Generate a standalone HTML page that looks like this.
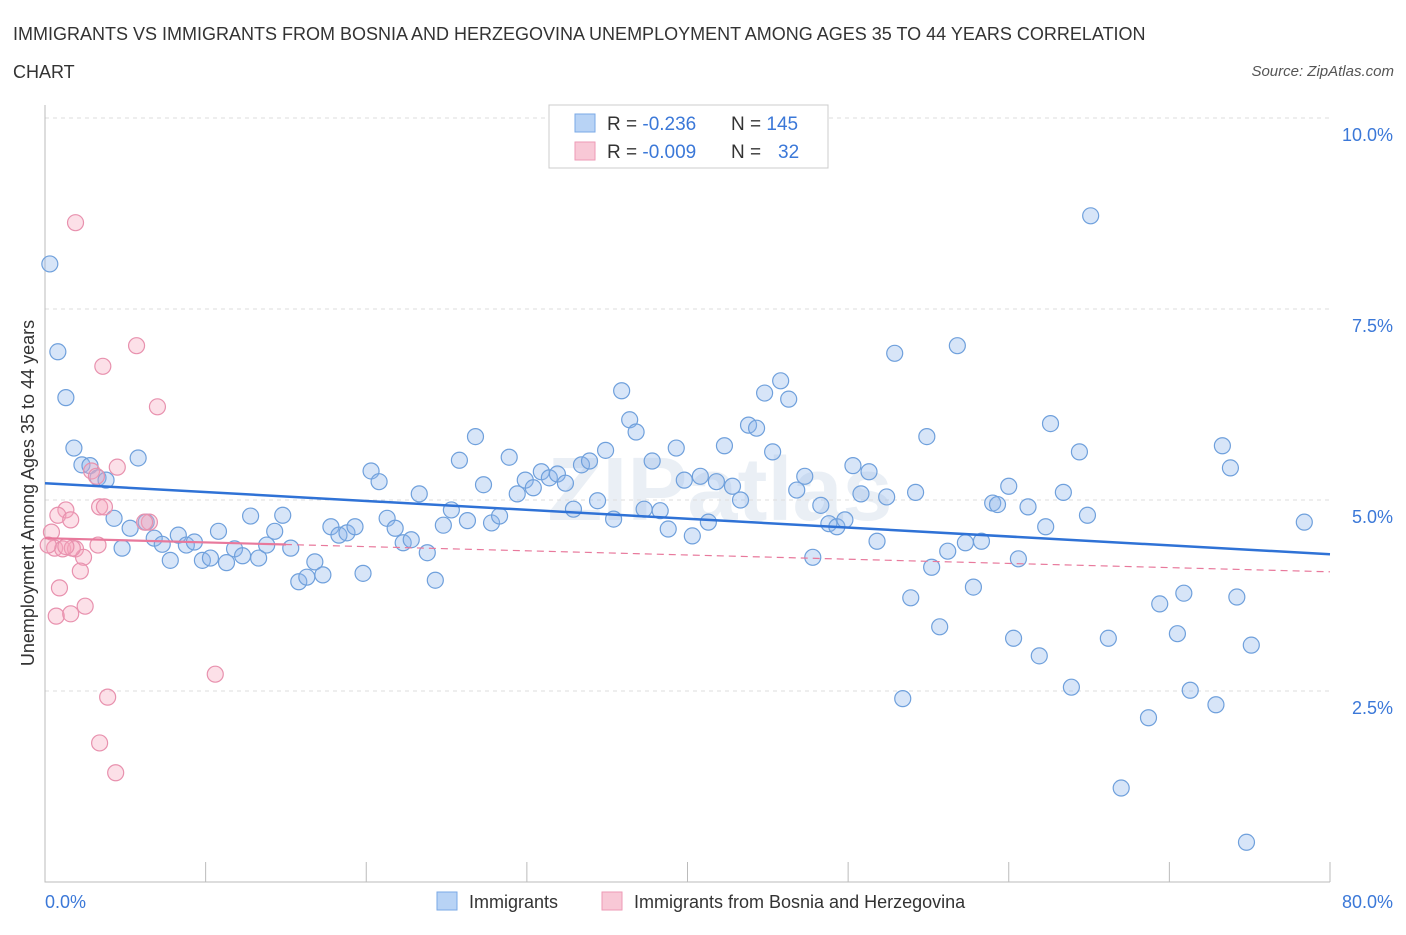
<!DOCTYPE html>
<html><head><meta charset="utf-8"><style>
body{margin:0;background:#fff;font-family:"Liberation Sans",sans-serif;}
svg text{font-family:"Liberation Sans",sans-serif;}
</style></head><body>
<svg id="chart" width="1406" height="930">
<text x="13" y="40" font-size="18" fill="#333">IMMIGRANTS VS IMMIGRANTS FROM BOSNIA AND HERZEGOVINA UNEMPLOYMENT AMONG AGES 35 TO 44 YEARS CORRELATION</text>
<text x="13" y="78" font-size="18" fill="#333">CHART</text>
<text x="1394" y="76" font-size="15" font-style="italic" fill="#555" text-anchor="end">Source: ZipAtlas.com</text>
<text x="720" y="520" font-size="90" font-weight="bold" fill="#dde6f0" text-anchor="middle" opacity="0.6">ZIPatlas</text>
<g id="grid"></g>
<g id="pts"></g>
<g id="trend"></g>
<text transform="translate(34,493) rotate(-90)" font-size="18" fill="#333" text-anchor="middle">Unemployment Among Ages 35 to 44 years</text>
<text x="45" y="908" font-size="18" fill="#3b78d8">0.0%</text>
<text x="1393" y="908" font-size="18" fill="#3b78d8" text-anchor="end">80.0%</text>
<g>
<rect x="549" y="105" width="279" height="63" fill="#fff" stroke="#ccc"/>
<rect x="575" y="114" width="20" height="18" fill="#b8d3f5" stroke="#7aa8e6"/>
<rect x="575" y="142" width="20" height="18" fill="#f8c8d6" stroke="#ee9ab6"/>
<text x="607" y="130" font-size="19" fill="#333">R = <tspan fill="#3b78d8">-0.236</tspan><tspan x="731">N = </tspan><tspan fill="#3b78d8">145</tspan></text>
<text x="607" y="158" font-size="19" fill="#333">R = <tspan fill="#3b78d8">-0.009</tspan><tspan x="731">N = </tspan><tspan fill="#3b78d8" x="778">32</tspan></text>
</g>
<g>
<rect x="437" y="892" width="20" height="18" fill="#b8d3f5" stroke="#7aa8e6"/>
<text x="469" y="908" font-size="18" fill="#333">Immigrants</text>
<rect x="602" y="892" width="20" height="18" fill="#f8c8d6" stroke="#ee9ab6"/>
<text x="634" y="908" font-size="18" fill="#333">Immigrants from Bosnia and Herzegovina</text>
</g>
</svg>
<script>
const blueX=[0.3,0.8,1.3,1.8,2.3,2.8,3.3,3.8,4.3,4.8,5.3,5.8,6.3,6.8,7.3,7.8,8.3,8.8,9.3,9.8,10.3,10.8,11.3,11.8,12.3,12.8,13.3,13.8,14.3,14.8,15.3,15.8,16.3,16.8,17.3,17.8,18.3,18.8,19.3,19.8,20.3,20.8,21.3,21.8,22.3,22.8,23.3,23.8,24.3,24.8,25.3,25.8,26.3,26.8,27.3,27.8,28.3,28.9,29.4,29.9,30.4,30.9,31.4,31.9,32.4,32.9,33.4,33.9,34.4,34.9,35.4,35.9,36.4,36.8,37.3,37.8,38.3,38.8,39.3,39.8,40.3,40.8,41.3,41.8,42.3,42.8,43.3,43.8,44.3,44.8,45.3,45.8,46.3,46.8,47.3,47.8,48.3,48.8,49.3,49.8,50.3,50.8,51.3,51.8,52.4,52.9,53.4,53.9,54.2,54.9,55.2,55.7,56.2,56.8,57.3,57.8,58.3,59.0,59.3,60.0,60.3,60.6,61.2,61.9,62.3,62.6,63.4,63.9,64.4,64.9,65.1,66.2,68.7,69.4,70.5,70.9,71.3,72.9,73.3,73.8,74.2,75.1,67.0,74.8,78.4];
const blueY=[8.09,6.94,6.34,5.68,5.46,5.45,5.29,5.26,4.76,4.37,4.63,5.55,4.71,4.50,4.42,4.21,4.54,4.41,4.45,4.21,4.24,4.59,4.18,4.36,4.27,4.79,4.24,4.41,4.59,4.80,4.37,3.93,3.99,4.19,4.02,4.65,4.54,4.57,4.65,4.04,5.38,5.24,4.76,4.63,4.44,4.48,5.08,4.31,3.95,4.67,4.87,5.52,4.73,5.83,5.20,4.70,4.79,5.56,5.08,5.26,5.16,5.37,5.29,5.34,5.22,4.88,5.46,5.51,4.99,5.65,4.75,6.43,6.05,5.89,4.88,5.51,4.86,4.62,5.68,5.26,4.53,5.31,4.71,5.24,5.71,5.18,5.00,5.98,5.94,6.40,5.63,6.56,6.32,5.13,5.31,4.25,4.93,4.69,4.65,4.74,5.45,5.08,5.37,4.46,5.04,6.92,2.40,3.72,5.10,5.83,4.12,3.34,4.33,7.02,4.44,3.86,4.46,4.96,4.94,5.18,3.19,4.23,4.91,2.96,4.65,6.00,5.10,2.55,5.63,4.80,8.72,3.19,2.15,3.64,3.25,3.78,2.51,2.32,5.71,5.42,3.73,3.10,1.23,0.52,4.71];
const pinkX=[1.9,5.7,3.6,7.0,4.5,2.9,3.2,1.3,0.8,1.6,3.4,3.7,6.5,0.4,3.3,0.6,1.1,1.9,2.4,2.2,0.9,2.5,0.7,1.6,10.6,3.9,3.4,4.4,0.2,1.7,1.3,6.2];
const pinkY=[8.63,7.02,6.75,6.22,5.43,5.38,5.31,4.87,4.80,4.74,4.91,4.91,4.71,4.58,4.41,4.37,4.36,4.36,4.25,4.07,3.85,3.61,3.48,3.51,2.72,2.42,1.82,1.43,4.41,4.37,4.39,4.71];
const blueTrend=[5.22,4.29];
const pinkTrend=[4.50,4.06];
const pinkSolidEnd=15;
const yTicks=[2.5,5.0,7.5,10.0];
const xTicks=[0,10,20,30,40,50,60,70,80];
const NS='http://www.w3.org/2000/svg';
const X=v=>45+v/80*1285;
const Y=v=>882-v/10*764;
function mk(tag,attrs,parent){const e=document.createElementNS(NS,tag);for(const k in attrs)e.setAttribute(k,attrs[k]);parent.appendChild(e);return e;}
const grid=document.getElementById('grid');
yTicks.forEach(t=>{
 const l=mk('line',{x1:45,x2:1330,y1:Y(t),y2:Y(t),stroke:'#ddd','stroke-dasharray':'4,4'},grid);
 
 
 const tx=mk('text',{x:1393,y:Y(t)+23,'font-size':18,fill:'#3b78d8','text-anchor':'end'},grid);
 tx.textContent=t.toFixed(1)+'%';
 
 
});
const ax=mk('path',{d:'M45 105V882H1330',stroke:'#bbb',fill:'none'},grid);


xTicks.forEach(t=>{
 const l=mk('line',{x1:X(t),x2:X(t),y1:862,y2:882,stroke:'#bbb'},grid);
 
 
});
const pts=document.getElementById('pts');
blueX.forEach((x,i)=>{
 const c=mk('circle',{cx:X(x),cy:Y(blueY[i]),r:8,fill:'rgba(140,180,235,0.35)',stroke:'#6fa0dc','stroke-width':1.2},pts);
 
 
});
pinkX.forEach((x,i)=>{
 const c=mk('circle',{cx:X(x),cy:Y(pinkY[i]),r:8,fill:'rgba(245,165,190,0.35)',stroke:'#e891ae','stroke-width':1.2},pts);
 
 
});
const tr=document.getElementById('trend');
const bl=mk('line',{x1:X(0),y1:Y(blueTrend[0]),x2:X(80),y2:Y(blueTrend[1]),stroke:'#2f72d6','stroke-width':2.5},tr);


const pAt=x=>pinkTrend[0]+(pinkTrend[1]-pinkTrend[0])*x/80;
const pd=mk('line',{x1:X(0),y1:Y(pinkTrend[0]),x2:X(80),y2:Y(pinkTrend[1]),stroke:'#e8799c','stroke-width':1.2,'stroke-dasharray':'7,5'},tr);


const ps=mk('line',{x1:X(0),y1:Y(pinkTrend[0]),x2:X(pinkSolidEnd),y2:Y(pAt(pinkSolidEnd)),stroke:'#e8799c','stroke-width':2.2},tr);


</script>
</body></html>
